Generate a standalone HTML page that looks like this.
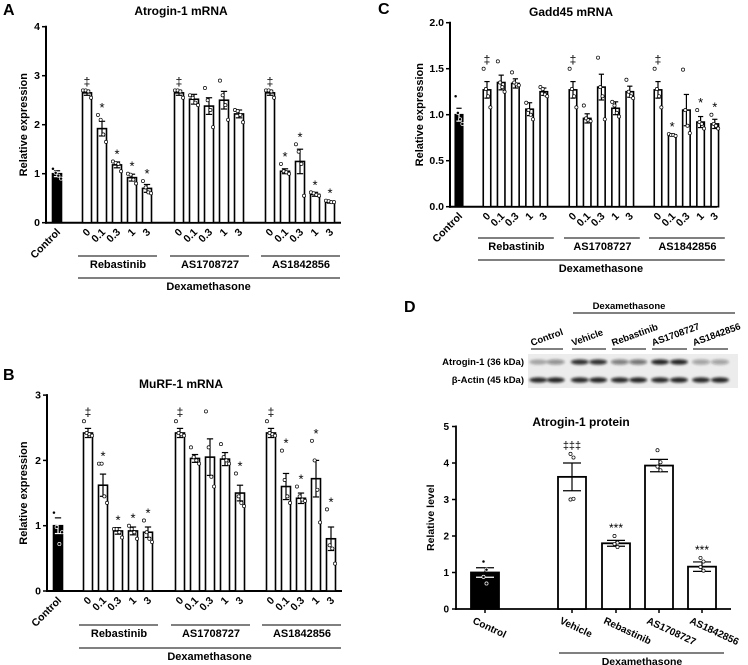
<!DOCTYPE html>
<html><head><meta charset="utf-8"><style>
html,body{margin:0;padding:0;background:#fff}
svg{display:block;font-family:"Liberation Sans",Arial,sans-serif;font-weight:bold}
</style></head><body>
<svg id="fig" width="748" height="665" viewBox="0 0 748 665">
<defs><filter id="blur" x="-30%" y="-100%" width="160%" height="300%"><feGaussianBlur stdDeviation="1.3"/></filter></defs>
</svg>
<script>
const doses=['0','0.1','0.3','1','3'];
const groups=['Rebastinib','AS1708727','AS1842856'];
// Panel A: Atrogin-1 mRNA
const aControl=1.0, aControlErr=0.06, aControlDots=[1.1,1.02,0.96,0.9];
const aMeans=[[2.65,1.92,1.18,0.92,0.70],[2.65,2.52,2.38,2.50,2.22],[2.65,1.05,1.25,0.58,0.42]];
const aErrs=[[0.05,0.15,0.06,0.07,0.08],[0.05,0.10,0.17,0.18,0.08],[0.05,0.05,0.25,0.04,0.02]];
const aDots=[[[2.7,2.7,2.68,2.55],[2.2,2.1,1.8,1.65],[1.25,1.22,1.2,1.05],[1.0,0.98,0.88,0.8],[0.85,0.72,0.62,0.6]],
[[2.7,2.7,2.68,2.55],[2.6,2.55,2.45,2.4],[2.75,2.5,2.3,1.95],[2.9,2.6,2.4,2.1],[2.3,2.28,2.2,2.05]],
[[2.7,2.7,2.68,2.55],[1.2,1.05,1.03,1.0],[1.6,1.45,1.2,0.55],[0.62,0.6,0.57,0.55],[0.45,0.44,0.42,0.42]]];
const aMarks=[['‡','*','*','*','*'],['‡','','','',''],['‡','*','*','*','*']];
// Panel B: MuRF-1 mRNA
const bControl=1.0, bControlErr=0.12, bControlDots=[1.2,0.98,0.72,0.9];
const bMeans=[[2.42,1.62,0.92,0.92,0.90],[2.42,2.03,2.05,2.02,1.50],[2.42,1.60,1.42,1.72,0.80]];
const bErrs=[[0.07,0.17,0.05,0.06,0.08],[0.07,0.06,0.28,0.10,0.12],[0.07,0.20,0.08,0.28,0.18]];
const bDots=[[[2.6,2.42,2.4,2.38],[1.95,1.95,1.45,1.35],[0.95,0.95,0.9,0.82],[1.0,0.95,0.9,0.8],[1.08,0.9,0.8,0.75]],
[[2.6,2.42,2.4,2.38],[2.2,2.05,2.0,1.95],[2.75,2.2,1.75,1.6],[2.25,2.05,2.0,1.95],[1.8,1.45,1.35,1.3]],
[[2.6,2.42,2.4,2.38],[2.15,1.7,1.45,1.35],[1.6,1.45,1.4,1.38],[2.3,2.0,1.55,1.05],[1.25,0.7,0.65,0.42]]];
const bMarks=[['‡','*','*','*','*'],['‡','','','','*'],['‡','*','*','*','*']];
// Panel C: Gadd45 mRNA
const cControl=1.0, cControlErr=0.07, cControlDots=[1.2,1.02,0.95,0.9];
const cMeans=[[1.27,1.35,1.34,1.06,1.25],[1.27,0.96,1.30,1.07,1.25],[1.27,0.78,1.05,0.92,0.90]];
const cErrs=[[0.09,0.08,0.05,0.07,0.04],[0.09,0.05,0.14,0.07,0.06],[0.09,0.01,0.17,0.06,0.05]];
const cDots=[[[1.5,1.28,1.2,1.08],[1.58,1.35,1.3,1.25],[1.46,1.35,1.33,1.32],[1.13,1.05,1.0,0.95],[1.3,1.28,1.22,1.2]],
[[1.5,1.28,1.2,1.08],[1.1,0.96,0.94,0.93],[1.62,1.3,1.2,0.95],[1.14,1.1,1.02,0.98],[1.38,1.25,1.2,1.18]],
[[1.5,1.28,1.2,1.08],[0.79,0.78,0.78,0.77],[1.49,1.05,0.88,0.8],[1.05,0.92,0.9,0.85],[1.0,0.9,0.88,0.85]]];
const cMarks=[['‡','','','',''],['‡','','','',''],['‡','*','','*','*']];
// Panel D: Atrogin-1 protein
const dCats=['Control','Vehicle','Rebastinib','AS1708727','AS1842856'];
const dMeans=[1.0,3.62,1.80,3.93,1.16];
const dErrs=[0.13,0.38,0.08,0.17,0.13];
const dDots=[[1.3,1.08,0.88,0.7],[4.25,4.15,3.0,3.02],[2.0,1.82,1.78,1.7],[4.35,4.02,3.9,3.8],[1.4,1.3,1.15,1.05]];
const dMarks=['','‡‡‡','***','','***'];
const dTicks=[0,1,2,3,4,5];
const blotAtrogin=[0.3,0.42,0.85,0.85,0.5,0.55,0.9,0.9,0.35,0.35];
const blotActin=[0.88,0.9,0.88,0.9,0.88,0.9,0.88,0.9,0.88,0.9];

const NS='http://www.w3.org/2000/svg';
const svg=document.getElementById('fig');
function mk(tag,attrs,parent,text){const e=document.createElementNS(NS,tag);for(const k in attrs)e.setAttribute(k,attrs[k]);if(text!==undefined)e.textContent=text;(parent||svg).appendChild(e);return e;}

function panel(P){
  const g=mk('g',{});
  
  
  const y=v=>P.yBase-v*P.ppu;
  const lbl=mk('text',{x:P.lx,y:P.ly,'font-size':16},g,P.letter);
  
  
  const t=mk('text',{x:P.tx,y:P.ty,'font-size':12,'text-anchor':'middle'},g,P.title);
  
  
  const ya=mk('line',{x1:P.ax,x2:P.ax,y1:y(P.ticks[P.ticks.length-1])-1,y2:P.yBase+1,stroke:'#000','stroke-width':2},g);
  
  
  const xa=mk('line',{x1:P.ax-1,x2:P.axEnd,y1:P.yBase,y2:P.yBase,stroke:'#000','stroke-width':2},g);
  
  
  P.ticks.forEach((tv,i)=>{
    mk('line',{x1:P.ax-4,x2:P.ax,y1:y(tv),y2:y(tv),stroke:'#000','stroke-width':1.5},g);
    const tl=mk('text',{x:P.ax-6,y:y(tv)+3.5,'font-size':10.5,'text-anchor':'end'},g,P.tickLabels[i]);
    
    
  });
  const yt=mk('text',{x:0,y:0,'font-size':11,'text-anchor':'middle',transform:`translate(${P.ytx},${y(P.ticks[P.ticks.length-1]/2)}) rotate(-90)`},g,P.ytitle);
  
  
  function bar(cx,m,e,dots,fill,mark,name){
    const r=mk('rect',{x:cx-P.bw/2,y:y(m),width:P.bw,height:P.yBase-y(m),fill:fill,stroke:'#000','stroke-width':1.6},g);
    
    
    mk('line',{x1:cx,x2:cx,y1:y(m+e),y2:y(Math.max(0,m-e)),stroke:fill==='#000'?'#fff':'#000','stroke-width':1.2},g);
    mk('line',{x1:cx-P.bw*0.35,x2:cx+P.bw*0.35,y1:y(m+e),y2:y(m+e),stroke:'#000','stroke-width':1.2},g);
    mk('line',{x1:cx-P.bw*0.35,x2:cx+P.bw*0.35,y1:y(m-e),y2:y(m-e),stroke:fill==='#000'?'#fff':'#000','stroke-width':1.2},g);
    dots.forEach((d,i)=>{
      const off=(i-(dots.length-1)/2)*P.bw*0.3;
      const c=mk('circle',{cx:cx+off,cy:y(d),r:1.6,fill:fill==='#000'?'#000':'#fff',stroke:fill==='#000'?'#fff':'#000','stroke-width':0.7},g);
      
      
    });
    if(mark){
      const top=Math.max(m+e,...dots);
      const isStar=mark.includes('*');
      const mt=mk('text',{x:cx,y:y(top)-(isStar?3:5),'font-size':isStar?13:12,'text-anchor':'middle','font-weight':'normal'},g,mark);
      
      
    }
  }
  bar(P.ctrlX,P.control,P.controlErr,P.controlDots,'#000','','bar-control');
  const ctl=mk('text',{x:0,y:0,'font-size':10.5,'text-anchor':'end',transform:`translate(${P.ctrlX+4},${P.yBase+10}) rotate(-45)`},g,'Control');
  
  
  groups.forEach((gn,gi)=>{
    const xs=doses.map((d,di)=>P.gStart[gi]+di*P.sp);
    doses.forEach((d,di)=>{
      bar(xs[di],P.means[gi][di],P.errs[gi][di],P.dots[gi][di],'#fff',P.marks[gi][di],'bar-'+gn.toLowerCase()+'-'+d);
      const tl=mk('text',{x:0,y:0,'font-size':10.5,'text-anchor':'end',transform:`translate(${xs[di]+4},${P.yBase+10}) rotate(-45)`},g,d);
      
      
    });
    mk('line',{x1:xs[0]-9,x2:xs[4]+10,y1:P.gLineY,y2:P.gLineY,stroke:'#000','stroke-width':1},g);
    const gl=mk('text',{x:(xs[0]+xs[4])/2+1,y:P.gLineY+12,'font-size':11,'text-anchor':'middle'},g,gn);
    
    
  });
  mk('line',{x1:P.gStart[0]-9,x2:P.gStart[2]+4*P.sp+10,y1:P.dLineY,y2:P.dLineY,stroke:'#000','stroke-width':1},g);
  const dx=mk('text',{x:(P.gStart[0]+P.gStart[2]+4*P.sp)/2,y:P.dLineY+12,'font-size':11,'text-anchor':'middle'},g,'Dexamethasone');
  
  
}

panel({name:'panel-a',letter:'A',lx:3,ly:15,title:'Atrogin-1 mRNA',tx:181,ty:15,ax:46,axEnd:341,yBase:222.7,ppu:49,
 ticks:[0,1,2,3,4],tickLabels:['0','1','2','3','4'],ytitle:'Relative expression',ytx:27,ctrlX:57,gStart:[87,179,270],sp:15,bw:9,
 control:aControl,controlErr:aControlErr,controlDots:aControlDots,means:aMeans,errs:aErrs,dots:aDots,marks:aMarks,gLineY:256,dLineY:278});
panel({name:'panel-b',letter:'B',lx:3,ly:380,title:'MuRF-1 mRNA',tx:181,ty:388,ax:47,axEnd:342,yBase:591,ppu:65.3,
 ticks:[0,1,2,3],tickLabels:['0','1','2','3'],ytitle:'Relative expression',ytx:27,ctrlX:58,gStart:[88,180,271],sp:15,bw:9,
 control:bControl,controlErr:bControlErr,controlDots:bControlDots,means:bMeans,errs:bErrs,dots:bDots,marks:bMarks,gLineY:625,dLineY:648});
panel({name:'panel-c',letter:'C',lx:378,ly:14,title:'Gadd45 mRNA',tx:571,ty:16,ax:450,axEnd:717,yBase:206.7,ppu:92,
 ticks:[0,0.5,1,1.5,2],tickLabels:['0.0','0.5','1.0','1.5','2.0'],ytitle:'Relative expression',ytx:423,ctrlX:459,gStart:[487,573,658],sp:14.2,bw:7.5,
 control:cControl,controlErr:cControlErr,controlDots:cControlDots,means:cMeans,errs:cErrs,dots:cDots,marks:cMarks,gLineY:238,dLineY:260});

// Panel D
(function(){
  const g=mk('g',{});
  
  
  const L=mk('text',{x:404,y:312,'font-size':16},g,'D');
  
  
  mk('line',{x1:573,x2:735,y1:313,y2:313,stroke:'#000','stroke-width':1},g);
  const dt=mk('text',{x:629,y:309,'font-size':9.5,'text-anchor':'middle'},g,'Dexamethasone');
  
  
  const segs=[[531,563],[572,606],[612,646],[652,687],[693,728]];
  const lanes=[];
  segs.forEach((s,i)=>{
    mk('line',{x1:s[0],x2:s[1],y1:349,y2:349,stroke:'#000','stroke-width':1},g);
    const t=mk('text',{x:0,y:0,'font-size':9.5,transform:`translate(${s[0]+1},${346}) rotate(-20)`},g,dCats[i]);
    
    
    lanes.push(s[0]+(s[1]-s[0])*0.23, s[0]+(s[1]-s[0])*0.77);
  });
  const bi=mk('rect',{x:528,y:354,width:210,height:34,fill:'#ececec'},g);
  
  
  const rows=[[362,blotAtrogin,'Atrogin-1 (36 kDa)'],[380,blotActin,'β-Actin (45 kDa)']];
  rows.forEach(r=>{
    const tl=mk('text',{x:524,y:r[0]+3,'font-size':9.5,'text-anchor':'end'},g,r[2]);
    
    
    r[1].forEach((v,i)=>{
      const b=mk('ellipse',{cx:lanes[i],cy:r[0],rx:9,ry:2.6,fill:'#111','fill-opacity':v,filter:'url(#blur)'},g);
      
      
    });
  });
  const ax=456,axEnd=731,yBase=609,ppu=36.5,bw=28;
  const y=v=>yBase-v*ppu;
  const xs=[485,572,616,659,702];
  const t=mk('text',{x:581,y:426,'font-size':12,'text-anchor':'middle'},g,'Atrogin-1 protein');
  
  
  const ya=mk('line',{x1:ax,x2:ax,y1:y(5)-1,y2:yBase+1,stroke:'#000','stroke-width':1.8},g);
  
  
  const xa=mk('line',{x1:ax-1,x2:axEnd,y1:yBase,y2:yBase,stroke:'#000','stroke-width':1.8},g);
  
  
  dTicks.forEach(tv=>{
    mk('line',{x1:ax-4,x2:ax,y1:y(tv),y2:y(tv),stroke:'#000','stroke-width':1.5},g);
    const tl=mk('text',{x:ax-7,y:y(tv)+3.5,'font-size':10,'text-anchor':'end'},g,String(tv));
    
    
  });
  const yt=mk('text',{x:0,y:0,'font-size':10.5,'text-anchor':'middle',transform:`translate(434,${y(2.5)}) rotate(-90)`},g,'Relative level');
  
  
  dMeans.forEach((m,i)=>{
    const cx=xs[i],fill=i===0?'#000':'#fff',e=dErrs[i];
    const r=mk('rect',{x:cx-bw/2,y:y(m),width:bw,height:yBase-y(m),fill:fill,stroke:'#000','stroke-width':1.8},g);
    
    
    mk('line',{x1:cx,x2:cx,y1:y(m+e),y2:y(m-e),stroke:'#000','stroke-width':1.2},g);
    mk('line',{x1:cx-9,x2:cx+9,y1:y(m+e),y2:y(m+e),stroke:'#000','stroke-width':1.2},g);
    mk('line',{x1:cx-9,x2:cx+9,y1:y(m-e),y2:y(m-e),stroke:i===0?'#fff':'#000','stroke-width':1.2},g);
    dDots[i].forEach((d,j)=>{
      const c=mk('circle',{cx:cx+(j%2?1.5:-1.5),cy:y(d),r:1.6,fill:i===0?'#000':'#fff',stroke:i===0?'#fff':'#000','stroke-width':0.7},g);
      
      
    });
    if(dMarks[i]){
      const top=Math.max(m+e,...dDots[i]);
      const isStar=dMarks[i].includes('*');
      const mt=mk('text',{x:cx,y:y(top)-(isStar?4:5),'font-size':isStar?12:11,'text-anchor':'middle','font-weight':'normal'},g,dMarks[i]);
      
      
    }
    mk('line',{x1:cx,x2:cx,y1:yBase,y2:yBase+4,stroke:'#000','stroke-width':1.5},g);
    const xl=mk('text',{x:0,y:0,'font-size':10,transform:`translate(${cx-13},${yBase+14}) rotate(25)`},g,dCats[i]);
    
    
  });
  mk('line',{x1:559,x2:724,y1:653,y2:653,stroke:'#000','stroke-width':1},g);
  const dx=mk('text',{x:642,y:665,'font-size':10.5,'text-anchor':'middle'},g,'Dexamethasone');
  
  
})();
</script>
</body></html>
